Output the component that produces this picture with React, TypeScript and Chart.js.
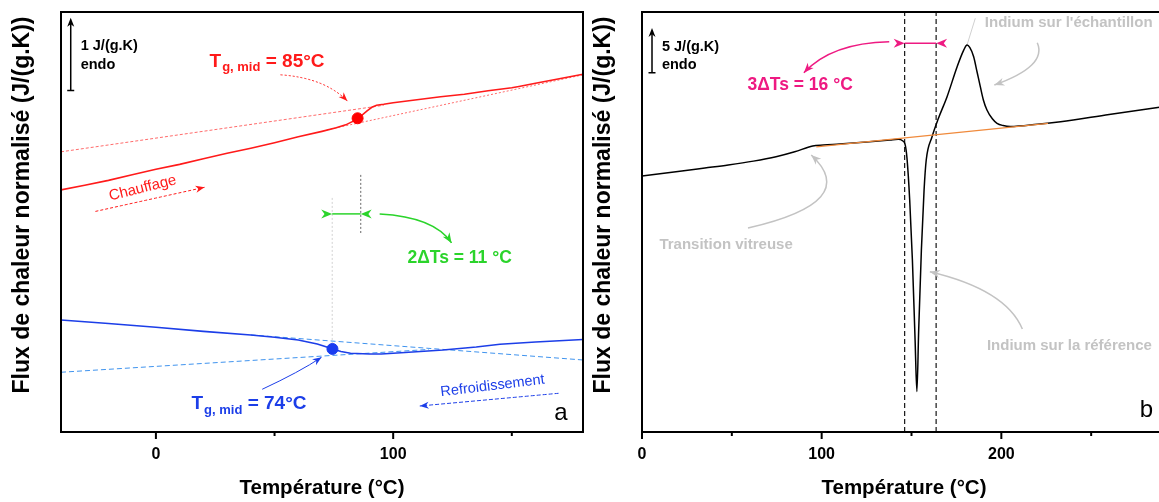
import React, { useEffect, useRef } from 'react';
import { Chart, registerables } from 'chart.js';
Chart.register(...registerables);

const FONT = '"Liberation Sans", Arial, Helvetica, sans-serif';

// ---------- Panel a : heating / cooling (x: °C, y: J/(g.K), arbitrary offset) ----------
const heatingTemp = [-40, -30, -20, -10, 0, 10, 20, 30, 40, 50, 60, 70, 76, 80, 83, 85, 87, 89, 91, 93, 96, 100, 110, 115, 120, 130, 140, 150, 153, 160, 170, 180];
const heatingFlux = [3.315, 3.377, 3.445, 3.521, 3.596, 3.664, 3.74, 3.815, 3.884, 3.959, 4.041, 4.116, 4.164, 4.205, 4.253, 4.295, 4.342, 4.397, 4.445, 4.473, 4.486, 4.507, 4.548, 4.57, 4.589, 4.623, 4.671, 4.712, 4.73, 4.774, 4.836, 4.897];
const heatTanUpperTemp = [-40, 96];
const heatTanUpperFlux = [3.836, 4.473];
const heatTanLowerTemp = [72, 180];
const heatTanLowerFlux = [4.137, 4.89];
const heatTg = [85, 4.295];

const coolingTemp = [-40, -20, 0, 20, 40, 50, 60, 68, 72, 74.4, 78, 82, 90, 95, 105, 121, 135, 145, 160, 180];
const coolingFlux = [1.534, 1.486, 1.434, 1.377, 1.329, 1.297, 1.26, 1.205, 1.164, 1.137, 1.103, 1.078, 1.068, 1.068, 1.089, 1.123, 1.164, 1.201, 1.233, 1.267];
const coolTanUpperTemp = [40, 180];
const coolTanUpperFlux = [1.329, 0.986];
const coolTanLowerTemp = [-40, 115];
const coolTanLowerFlux = [0.818, 1.13];
const coolTg = [74.4, 1.137];

const ticksA = [0, 50, 100, 150];
const labelsA = [0, 100];

// ---------- Panel b : indium calibration ----------
const indiumTemp = [0, 20, 35, 48, 62, 74.6, 85, 95, 101, 110, 125, 138, 142.6, 145, 146.5, 147.5, 149, 150.5, 152, 153, 154, 155.5, 157, 158.2, 161.4, 165, 169.8, 175.4, 179, 180.9, 182.5, 184.6, 186.5, 188.3, 190, 192, 195, 197.6, 201, 205, 220, 233, 260, 288, 300];
const indiumFlux = [28.44, 28.94, 29.33, 29.67, 30.1, 30.59, 31.14, 31.78, 31.89, 32.0, 32.22, 32.44, 32.52, 32.37, 31.9, 30.4, 25.78, 19.11, 10.22, 4.5, 11.33, 20.22, 26.89, 30.22, 32.78, 34.86, 37.26, 40.59, 42.4, 43.0, 42.7, 41.7, 40.0, 38.37, 36.9, 35.78, 34.8, 34.3, 34.05, 33.94, 34.19, 34.48, 35.28, 36.08, 36.41];
const baselineTemp = [97, 226];
const baselineFlux = [31.69, 34.3];
const onsetLines = [146.2, 163.7];

const ticksB = [0, 50, 100, 150, 200, 250, 300];
const labelsB = [0, 100, 200];

const pts = (xs: number[], ys: number[]) => xs.map((x, i) => ({ x, y: ys[i] }));

type Ctx = CanvasRenderingContext2D;

function head(ctx: Ctx, x: number, y: number, ang: number, len: number, half: number, color: string) {
  const c = Math.cos(ang), s = Math.sin(ang);
  ctx.save();
  ctx.setLineDash([]);
  ctx.fillStyle = color;
  ctx.beginPath();
  ctx.moveTo(x, y);
  ctx.lineTo(x - len * c - half * s, y - len * s + half * c);
  ctx.lineTo(x - len * 0.7 * c, y - len * 0.7 * s);
  ctx.lineTo(x - len * c + half * s, y - len * s - half * c);
  ctx.closePath();
  ctx.fill();
  ctx.restore();
}

function curveArrow(chart: any, a: number[], color: string, width: number, dash: number[], len = 10, half = 4) {
  const { ctx } = chart;
  const X = (v: number) => chart.scales.x.getPixelForValue(v);
  const Y = (v: number) => chart.scales.y.getPixelForValue(v);
  const x0 = X(a[0]), y0 = Y(a[1]), cx = X(a[2]), cy = Y(a[3]), x1 = X(a[4]), y1 = Y(a[5]);
  ctx.save();
  ctx.strokeStyle = color;
  ctx.lineWidth = width;
  ctx.setLineDash(dash);
  ctx.beginPath();
  ctx.moveTo(x0, y0);
  ctx.quadraticCurveTo(cx, cy, x1, y1);
  ctx.stroke();
  ctx.restore();
  head(ctx, x1, y1, Math.atan2(y1 - cy, x1 - cx), len, half, color);
}

function dimension(chart: any, xa: number, xb: number, y: number, color: string) {
  const { ctx } = chart;
  const pa = chart.scales.x.getPixelForValue(xa);
  const pb = chart.scales.x.getPixelForValue(xb);
  const py = chart.scales.y.getPixelForValue(y);
  ctx.save();
  ctx.strokeStyle = color;
  ctx.lineWidth = 1.5;
  ctx.beginPath();
  ctx.moveTo(pa, py);
  ctx.lineTo(pb, py);
  ctx.stroke();
  ctx.restore();
  head(ctx, pa, py, 0, 11, 4.5, color);
  head(ctx, pb, py, Math.PI, 11, 4.5, color);
}

function scaleBar(chart: any, x: number, y0: number, y1: number, l1: string, l2: string, ly1: number, ly2: number, lx: number) {
  const { ctx } = chart;
  const px = chart.scales.x.getPixelForValue(x);
  const a = chart.scales.y.getPixelForValue(y0);
  const b = chart.scales.y.getPixelForValue(y1);
  ctx.save();
  ctx.strokeStyle = '#000';
  ctx.lineWidth = 1.5;
  ctx.beginPath();
  ctx.moveTo(px, a);
  ctx.lineTo(px, b + 6);
  ctx.moveTo(px - 3.5, a);
  ctx.lineTo(px + 3.5, a);
  ctx.stroke();
  ctx.restore();
  head(ctx, px, b, -Math.PI / 2, 9, 3.5, '#000');
  text(chart, l1, lx, ly1, `bold 14.5px ${FONT}`, '#000', 'left');
  text(chart, l2, lx, ly2, `bold 14.5px ${FONT}`, '#000', 'left');
}

function text(chart: any, s: string, x: number, y: number, font: string, color: string, align: CanvasTextAlign = 'center', rot = 0) {
  const { ctx } = chart;
  const px = chart.scales.x.getPixelForValue(x);
  const py = chart.scales.y.getPixelForValue(y);
  ctx.save();
  ctx.translate(px, py);
  ctx.rotate((rot * Math.PI) / 180);
  ctx.font = font;
  ctx.fillStyle = color;
  ctx.textAlign = align;
  ctx.textBaseline = 'middle';
  ctx.fillText(s, 0, 0);
  ctx.restore();
}

function tgLabel(chart: any, x: number, y: number, val: string, color: string) {
  const { ctx } = chart;
  let px = chart.scales.x.getPixelForValue(x);
  const py = chart.scales.y.getPixelForValue(y);
  ctx.save();
  ctx.fillStyle = color;
  ctx.textAlign = 'left';
  ctx.textBaseline = 'middle';
  ctx.font = `bold 19px ${FONT}`;
  ctx.fillText('T', px, py);
  px += ctx.measureText('T').width + 1;
  ctx.font = `bold 13px ${FONT}`;
  ctx.fillText('g, mid', px, py + 6);
  px += ctx.measureText('g, mid').width;
  ctx.font = `bold 19px ${FONT}`;
  ctx.fillText(' = ' + val, px, py);
  ctx.restore();
}

function frame(chart: any, ticks: number[], major: number[], yTitleX: number, xTitleX: number) {
  const { ctx, chartArea } = chart;
  const { left, right, top, bottom } = chartArea;
  ctx.save();
  ctx.strokeStyle = '#000';
  ctx.lineWidth = 2;
  ctx.strokeRect(left, top, right - left, bottom - top);
  ticks.forEach((v) => {
    const x = chart.scales.x.getPixelForValue(v);
    const len = major.includes(v) ? 7 : 4;
    ctx.beginPath();
    ctx.moveTo(x, bottom);
    ctx.lineTo(x, bottom + len);
    ctx.stroke();
  });
  ctx.fillStyle = '#000';
  ctx.textAlign = 'center';
  ctx.textBaseline = 'middle';
  ctx.font = `bold 20.5px ${FONT}`;
  ctx.fillText('Température (°C)', xTitleX, 488);
  ctx.translate(yTitleX, 205);
  ctx.rotate(-Math.PI / 2);
  ctx.font = `bold 23px ${FONT}`;
  ctx.fillText('Flux de chaleur normalisé (J/(g.K))', 0, 0);
  ctx.restore();
}

function baseOptions(xmin: number, xmax: number, ymax: number, ticks: number[], labels: number[], yWidth: number, padRight: number) {
  return {
    animation: false as const,
    responsive: false,
    maintainAspectRatio: false,
    events: [] as any[],
    layout: { padding: { top: 12, right: padRight, left: 0, bottom: 0 } },
    plugins: { legend: { display: false }, tooltip: { enabled: false } },
    scales: {
      x: {
        type: 'linear' as const,
        min: xmin,
        max: xmax,
        afterBuildTicks: (s: any) => {
          s.ticks = ticks.map((v) => ({ value: v }));
        },
        ticks: {
          autoSkip: false,
          maxRotation: 0,
          padding: 13,
          color: '#000',
          font: { family: FONT, size: 16, weight: 'bold' as const },
          callback: (v: any) => (labels.includes(Number(v)) ? String(v) : ''),
        },
        grid: { display: false, drawTicks: false },
        border: { display: false },
        afterFit: (s: any) => {
          s.height = 70;
          s.paddingLeft = 0;
          s.paddingRight = 0;
        },
      },
      y: {
        type: 'linear' as const,
        min: 0,
        max: ymax,
        ticks: { display: false },
        grid: { display: false, drawTicks: false },
        border: { display: false },
        afterFit: (s: any) => {
          s.width = yWidth;
        },
      },
    },
  };
}

const RED = '#ff1a1a';
const BLUE = '#1c3ee8';
const LBLUE = '#3f93ee';
const GREEN = '#2bd42b';
const PINK = '#ee1a82';
const GRAY = '#c3c3c3';

export default function App() {
  const refA = useRef<HTMLCanvasElement>(null);
  const refB = useRef<HTMLCanvasElement>(null);

  useEffect(() => {
    const line = (data: any[], color: string, width: number, dash: number[] = [], smooth = false) => ({
      data,
      borderColor: color,
      borderWidth: width,
      borderDash: dash,
      pointRadius: 0,
      fill: false,
      showLine: true,
      cubicInterpolationMode: smooth ? ('monotone' as const) : ('default' as const),
      tension: 0,
    });
    const dot = (p: number[], color: string) => ({
      data: [{ x: p[0], y: p[1] }],
      pointRadius: 5.5,
      pointBackgroundColor: color,
      pointBorderColor: color,
      showLine: false,
    });

    const annotA = {
      id: 'annotA',
      afterDraw(chart: any) {
        frame(chart, ticksA, labelsA, 23, 322);
        scaleBar(chart, -35.9, 4.675, 5.67, '1 J/(g.K)', 'endo', 5.28, 5.03, -31.7);
        tgLabel(chart, 22.6, 5.068, '85°C', RED);
        curveArrow(chart, [52.5, 4.89, 71.1, 4.849, 80.7, 4.53], RED, 1, [2, 2], 9, 3.5);
        text(chart, 'Chauffage', -5.6, 3.338, `15px ${FONT}`, RED, 'center', -14);
        curveArrow(chart, [-25.5, 3.02, -2.5, 3.185, 20.5, 3.35], RED, 1, [3, 2], 9, 3.5);
        dimension(chart, 74.3, 86.3, 2.986, GREEN);
        curveArrow(chart, [94.3, 2.986, 117.5, 2.945, 124.6, 2.589], GREEN, 1.5, [], 10, 4);
        text(chart, '2ΔTs = 11 °C', 128, 2.384, `bold 17.5px ${FONT}`, GREEN);
        tgLabel(chart, 15, 0.384, '74°C', BLUE);
        curveArrow(chart, [44.8, 0.585, 60.5, 0.822, 69.8, 1.023], BLUE, 1, [], 9, 3.5);
        text(chart, 'Refroidissement', 141.9, 0.63, `14.5px ${FONT}`, BLUE, 'center', -7);
        curveArrow(chart, [169.7, 0.53, 140.5, 0.443, 111.2, 0.356], BLUE, 1, [4, 2], 9, 3.5);
        text(chart, 'a', 170.7, 0.26, `24px ${FONT}`, '#000');
      },
    };

    const annotB = {
      id: 'annotB',
      afterDraw(chart: any) {
        frame(chart, ticksB, labelsB, 19, 319);
        scaleBar(chart, 5.57, 39.92, 44.89, '5 J/(g.K)', 'endo', 42.81, 40.78, 11.1);
        dimension(chart, onsetLines[0], onsetLines[1], 43.19, PINK);
        curveArrow(chart, [137.6, 43.37, 105.4, 43.24, 90.1, 39.92], PINK, 1.5, [], 10, 4);
        text(chart, '3ΔTs = 16 °C', 88, 38.56, `bold 17.5px ${FONT}`, PINK);
        text(chart, "Indium sur l'échantillon", 237.5, 45.41, `bold 15px ${FONT}`, GRAY);
        curveArrow(chart, [220, 43.26, 225.7, 40.65, 196.1, 38.56], GRAY, 1.5, [], 10, 4);
        text(chart, 'Transition vitreuse', 46.8, 20.78, `bold 15px ${FONT}`, GRAY);
        curveArrow(chart, [59, 22.67, 122.3, 25.57, 94.2, 30.78], GRAY, 1.5, [], 10, 4);
        text(chart, 'Indium sur la référence', 237.9, 9.59, `bold 15px ${FONT}`, GRAY);
        curveArrow(chart, [211.7, 11.44, 202.6, 15.82, 160.2, 17.81], GRAY, 1.5, [], 10, 4);
        text(chart, 'b', 280.8, 2.44, `24px ${FONT}`, '#000');
      },
    };

    const peakGuide = {
      id: 'peakGuide',
      beforeDatasetsDraw(chart: any) {
        const { ctx } = chart;
        const X = (v: number) => chart.scales.x.getPixelForValue(v);
        const Y = (v: number) => chart.scales.y.getPixelForValue(v);
        ctx.save();
        ctx.strokeStyle = '#d0d0d0';
        ctx.lineWidth = 1;
        ctx.beginPath();
        ctx.moveTo(X(180.9), Y(43.0));
        ctx.lineTo(X(185.5), Y(45.97));
        ctx.stroke();
        ctx.restore();
      },
    };

    const chartA = new Chart(refA.current as HTMLCanvasElement, {
      type: 'line',
      data: {
        datasets: [
          dot(heatTg, '#ff0000'),
          dot(coolTg, '#1a3cf0'),
          line(pts(heatingTemp, heatingFlux), RED, 1.6),
          line(pts(coolingTemp, coolingFlux), BLUE, 1.6),
          line(pts(heatTanUpperTemp, heatTanUpperFlux), 'rgba(255,70,70,0.8)', 1, [3, 2]),
          line(pts(heatTanLowerTemp, heatTanLowerFlux), 'rgba(255,70,70,0.8)', 1, [2, 2]),
          line(pts(coolTanUpperTemp, coolTanUpperFlux), LBLUE, 1, [5, 3]),
          line(pts(coolTanLowerTemp, coolTanLowerFlux), LBLUE, 1, [5, 3]),
          line(pts([86.3, 86.3], [3.52, 2.726]), '#8a8a8a', 1.3, [2, 2]),
          line(pts([74.3, 74.3], [3.205, 1.19]), '#d2d2d2', 1, [2, 2]),
        ] as any,
      },
      options: baseOptions(-40, 180, 5.75, ticksA, labelsA, 61, 7) as any,
      plugins: [annotA],
    });

    const chartB = new Chart(refB.current as HTMLCanvasElement, {
      type: 'line',
      data: {
        datasets: [
          line(pts(baselineTemp, baselineFlux), '#f08a3c', 1.3),
          line(pts(indiumTemp, indiumFlux), '#000', 1.5, [], true),
          line(pts([onsetLines[0], onsetLines[0]], [0, 46.67]), '#000', 1.1, [5, 3]),
          line(pts([onsetLines[1], onsetLines[1]], [0, 46.67]), '#000', 1.1, [5, 3]),
        ] as any,
      },
      options: baseOptions(0, 300, 46.67, ticksB, labelsB, 57, 0) as any,
      plugins: [annotB, peakGuide],
    });

    return () => {
      chartA.destroy();
      chartB.destroy();
    };
  }, []);

  return (
    <div style={{ position: 'fixed', left: 0, top: 0, width: 1159, height: 502, overflow: 'hidden', background: '#fff' }}>
      <canvas ref={refA} width={590} height={502} style={{ position: 'absolute', left: 0, top: 0, width: 590, height: 502 }} />
      <canvas ref={refB} width={596} height={502} style={{ position: 'absolute', left: 585, top: 0, width: 596, height: 502 }} />
    </div>
  );
}
